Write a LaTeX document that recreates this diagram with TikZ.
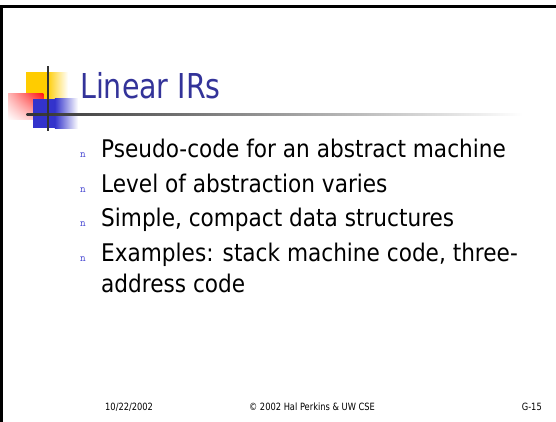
\documentclass[tikz,border=0pt]{standalone}
\usetikzlibrary{shadings}
\usepackage{fontspec}
\setmainfont{DejaVu Sans}
\newfontfamily\titlefont{DejaVu Sans}[FakeStretch=0.83]
\newfontfamily\bodyfont{DejaVu Sans}[FakeStretch=0.89]
\newfontfamily\footfont{DejaVu Sans}[FakeStretch=0.83]
\definecolor{titleblue}{RGB}{51,51,153}
\definecolor{bulletblue}{RGB}{70,70,210}
\definecolor{logoyellow}{RGB}{255,204,0}
\definecolor{logoblue}{RGB}{51,51,204}
\definecolor{logored}{RGB}{255,20,20}
\definecolor{rulegray}{RGB}{51,51,51}
\tikzset{
  bodytext/.style={anchor=base west, inner sep=0pt, font=\bodyfont\fontsize{24.3}{28}\selectfont},
  bulletmark/.style={anchor=base west, inner sep=0pt, text=bulletblue, font=\ttfamily\fontsize{11}{12}\selectfont},
  foottext/.style={anchor=base, inner sep=0pt, font=\footfont\fontsize{10}{12}\selectfont},
}
\begin{document}
\begin{tikzpicture}[x=1pt,y=-1pt]
\useasboundingbox (0,0) rectangle (556,422);
\fill[white] (0,0) rectangle (556,422);
% slide frame: top and left edges
\fill[black] (0,5.2) rectangle (556,7.9);
\fill[black] (0,5.2) rectangle (2.7,422);
% logo squares
\fill[logoyellow] (26,72.3) rectangle (47,99);
\shade[left color=logoyellow, right color=white] (46.8,72.3) rectangle (68,99);
\shade[upper right=logored, upper left=logored!30, lower right=logored!30, lower left=white] (8,93.7) rectangle (43.3,120);
\fill[logoblue] (33.3,99) rectangle (55,128.3);
\shade[left color=logoblue, right color=white] (54.8,99) rectangle (78,128.3);
% logo cross and title rule
\shade[left color=rulegray, middle color=black!30, right color=white] (26.7,113.7) rectangle (523,116);
\fill[rulegray] (47,66) rectangle (49,130.7);
% title
\node[anchor=base west, inner sep=0pt, text=titleblue, font=\titlefont\fontsize{34.3}{40}\selectfont] (title) at (80,98.5) {Linear IRs};
% bullets
\node[bulletmark] (b1) at (80,157.7) {n};
\node[bodytext] (t1) at (101,157.7) {Pseudo-code for an abstract machine};
\node[bulletmark] (b2) at (80,192.7) {n};
\node[bodytext] (t2) at (101,192.7) {Level of abstraction varies};
\node[bulletmark] (b3) at (80,226.7) {n};
\node[bodytext] (t3) at (101,226.7) {Simple, compact data structures};
\node[bulletmark] (b4) at (80,261.7) {n};
\node[bodytext] (t4) at (101,261.7) {Examples: stack machine code, three-};
\node[bodytext] (t5) at (101,292.3) {address code};
% footer
\node[foottext, anchor=base west] (date) at (105,410) {10/22/2002};
\node[foottext] (copy) at (312,410) {© 2002 Hal Perkins \& UW CSE};
\node[foottext, anchor=base east] (page) at (542,410) {G-15};
\end{tikzpicture}
\end{document}
